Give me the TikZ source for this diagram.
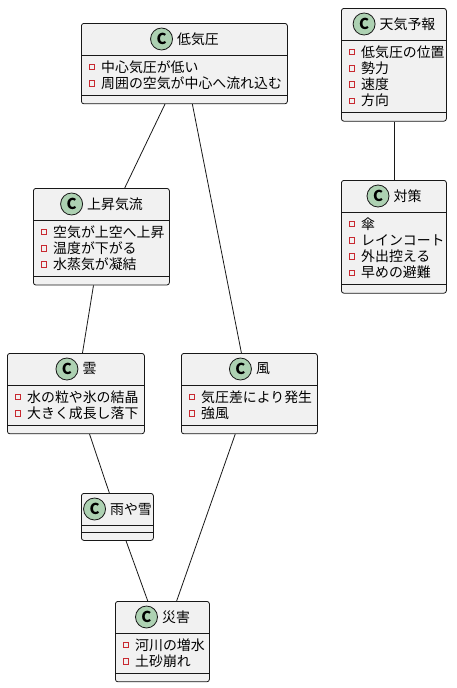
\documentclass[tikz,border=0pt]{standalone}
\usepackage{fontspec}
\setmainfont{Noto Sans CJK JP}
\usetikzlibrary{positioning}
\definecolor{bord}{HTML}{181818}
\definecolor{boxfill}{HTML}{F1F1F1}
\definecolor{circfill}{HTML}{ADD1B2}
\definecolor{privred}{HTML}{C82930}
\tikzset{
  umlbox/.style={draw=bord, fill=boxfill, rounded corners=2.5pt, line width=0.8pt, inner sep=0pt},
  umlline/.style={draw=bord, line width=0.8pt},
  titletext/.style={inner sep=0pt, font=\fontsize{13.9}{16}\selectfont, text=black},
  circ/.style={circle, draw=bord, fill=circfill, line width=0.8pt, minimum size=22pt, inner sep=0pt, font=\fontsize{15}{16}\selectfont\bfseries},
  sq/.style={draw=privred, line width=0.8pt, minimum size=5.5pt, inner sep=0pt},
  attr/.style={inner sep=0pt, anchor=west, font=\fontsize{13.9}{16}\selectfont, text=black},
  conn/.style={draw=bord, line width=0.8pt}
}
% name, left, top, width, nrows, title, list
\newcommand{\umlclass}[7]{%
  \pgfmathsetmacro\ah{#5==0 ? 7 : 8+16.2*#5}%
  \pgfmathsetmacro\tot{32+\ah+8}%
  \node[umlbox, minimum width=#4pt, minimum height=\tot pt, anchor=north west] (#1) at (#2,#3) {};
  \draw[umlline] (#2,#3+32) -- ++(#4,0);
  \draw[umlline] (#2,#3+32+\ah) -- ++(#4,0);
  \node[titletext] (#1-t) at (#2+#4/2+14,#3+16) {#6};
  \node[circ, left=4pt of #1-t] (#1-c) {C};
  \ifnum#5>0
  \foreach \a [count=\i] in {#7} {
    \node[sq] (#1-s\i) at (#2+11, #3+44.1+16.2*\i-16.2) {};
    \node[attr] (#1-a\i) at (#2+20, #3+44.1+16.2*\i-16.2) {\a};
  }
  \fi
}
\begin{document}
\begin{tikzpicture}[x=1pt,y=-1pt]
\useasboundingbox (0,0) rectangle (456,688);
\umlclass{A}{81}{23}{206}{2}{低気圧}{中心気圧が低い,周囲の空気が中心へ流れ込む}
\umlclass{B}{341}{8}{105}{4}{天気予報}{低気圧の位置,勢力,速度,方向}
\umlclass{C}{341}{180}{105}{4}{対策}{傘,レインコート,外出控える,早めの避難}
\umlclass{D}{33}{188}{136}{3}{上昇気流}{空気が上空へ上昇,温度が下がる,水蒸気が凝結}
\umlclass{E}{7}{353}{137}{2}{雲}{水の粒や氷の結晶,大きく成長し落下}
\umlclass{F}{181}{353}{136}{2}{風}{気圧差により発生,強風}
\umlclass{G}{81}{493}{72}{0}{雨や雪}{}
\umlclass{H}{115}{601}{94}{2}{災害}{河川の増水,土砂崩れ}
\draw[conn] (A) -- (D);
\draw[conn] (A) -- (F);
\draw[conn] (D) -- (E);
\draw[conn] (E) -- (G);
\draw[conn] (G) -- (H);
\draw[conn] (F) -- (H);
\draw[conn] (B) -- (C);
\end{tikzpicture}
\end{document}
